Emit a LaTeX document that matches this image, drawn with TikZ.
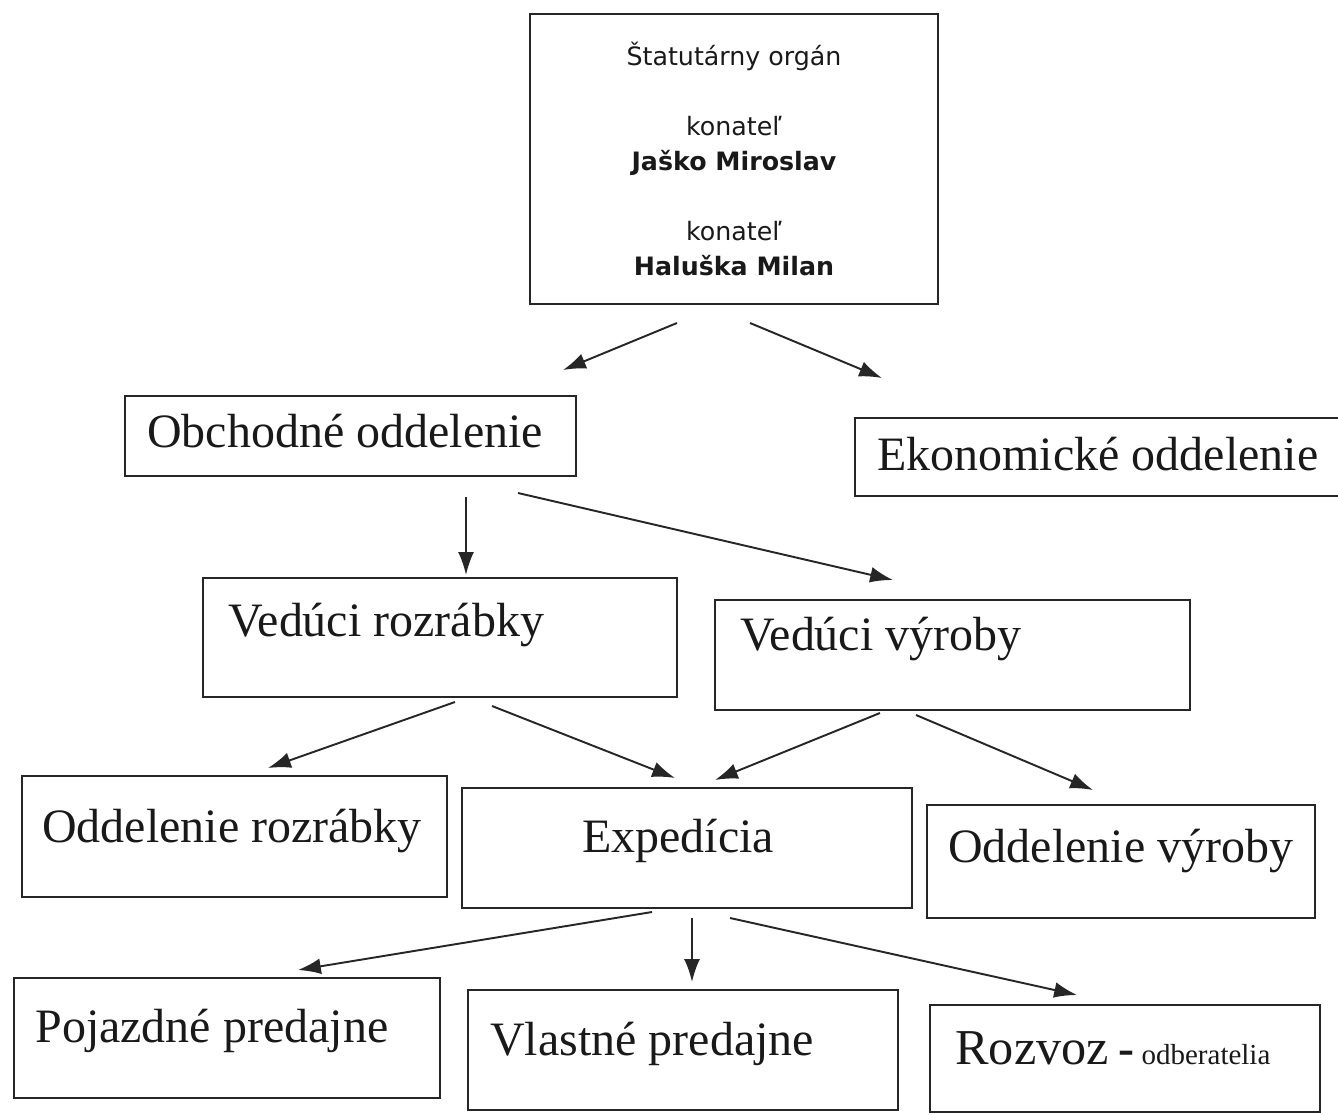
\documentclass[tikz,border=0pt]{standalone}
\usepackage{fontspec}
\setmainfont{Liberation Serif}
\newfontfamily\verdanafont{DejaVu Sans}
\usetikzlibrary{arrows.meta}
\begin{document}
\begin{tikzpicture}[x=0.02cm,y=-0.02cm,
  box/.style={draw=black!85,line width=1.3pt,rectangle,inner sep=0pt},
  lbl/.style={anchor=base west,inner sep=0pt,font=\fontsize{27.3}{30}\selectfont,text=black!90},
  arr/.style={draw=black!85,line width=1.1pt,-{Latex[length=13pt,width=9pt]}}]
\useasboundingbox (0,0) rectangle (1338,1115);
% boxes
\node[box,minimum width=8.16cm,minimum height=5.8cm,align=center,text=black!90,
  font=\verdanafont\fontsize{14.4}{19.9}\selectfont] (top) at (734,159)
  {Štatutárny orgán\\ \mbox{}\\ konateľ\\ \textbf{Jaško Miroslav}\\ \mbox{}\\ konateľ\\ \textbf{Haluška Milan}};
\node[box,minimum width=9.02cm,minimum height=1.6cm] (obch) at (350.5,436) {};
\node[box,minimum width=9.8cm,minimum height=1.55cm] (ekon) at (1100,457) {};
\node[box,minimum width=9.48cm,minimum height=2.38cm] (vroz) at (440,637.5) {};
\node[box,minimum width=9.5cm,minimum height=2.2cm] (vvyr) at (952.5,655) {};
\node[box,minimum width=8.5cm,minimum height=2.42cm] (odroz) at (234.5,836.5) {};
\node[box,minimum width=9.0cm,minimum height=2.4cm] (exp) at (687,848) {};
\node[box,minimum width=7.76cm,minimum height=2.26cm] (odvyr) at (1121,861.5) {};
\node[box,minimum width=8.52cm,minimum height=2.4cm] (poj) at (227,1038) {};
\node[box,minimum width=8.6cm,minimum height=2.4cm] (vlas) at (683,1050) {};
\node[box,minimum width=7.8cm,minimum height=2.14cm] (rozv) at (1125,1058.5) {};
% labels
\node[lbl] (tobch) at (147,447) {Obchodné oddelenie};
\node[lbl] (tekon) at (877,470) {Ekonomické oddelenie};
\node[lbl] (tvroz) at (228,636) {Vedúci rozrábky};
\node[lbl] (tvvyr) at (740,650) {Vedúci výroby};
\node[lbl] (todroz) at (42,842) {Oddelenie rozrábky};
\node[lbl] (texp) at (582,852) {Expedícia};
\node[lbl] (todvyr) at (948,862) {Oddelenie výroby};
\node[lbl] (tpoj) at (35,1042) {Pojazdné predajne};
\node[lbl] (tvlas) at (490,1055) {Vlastné predajne};
\node[lbl] (trozv) at (955,1064) {{\fontsize{28.6}{30}\selectfont Rozvoz}\hspace{0.2em}\textbf{-}\hspace{0.15em}{\fontsize{16.5}{18}\selectfont odberatelia}};
% connector end points
\coordinate (s1) at (677,323); \coordinate (e1) at (563,370);
\coordinate (s2) at (750,323); \coordinate (e2) at (882,378);
\coordinate (s3) at (466,497); \coordinate (e3) at (466,575);
\coordinate (s4) at (518,493); \coordinate (e4) at (893,580);
\coordinate (s5) at (455,702); \coordinate (e5) at (268,768);
\coordinate (s6) at (492,706); \coordinate (e6) at (675,778);
\coordinate (s7) at (880,713); \coordinate (e7) at (715,780);
\coordinate (s8) at (916,715); \coordinate (e8) at (1093,790);
\coordinate (s9) at (652,912); \coordinate (e9) at (298,970);
\coordinate (s10) at (692,918); \coordinate (e10) at (692,982);
\coordinate (s11) at (730,918); \coordinate (e11) at (1077,995);
\foreach \i in {1,...,11} \draw[arr] (s\i) -- (e\i);
\end{tikzpicture}
\end{document}
